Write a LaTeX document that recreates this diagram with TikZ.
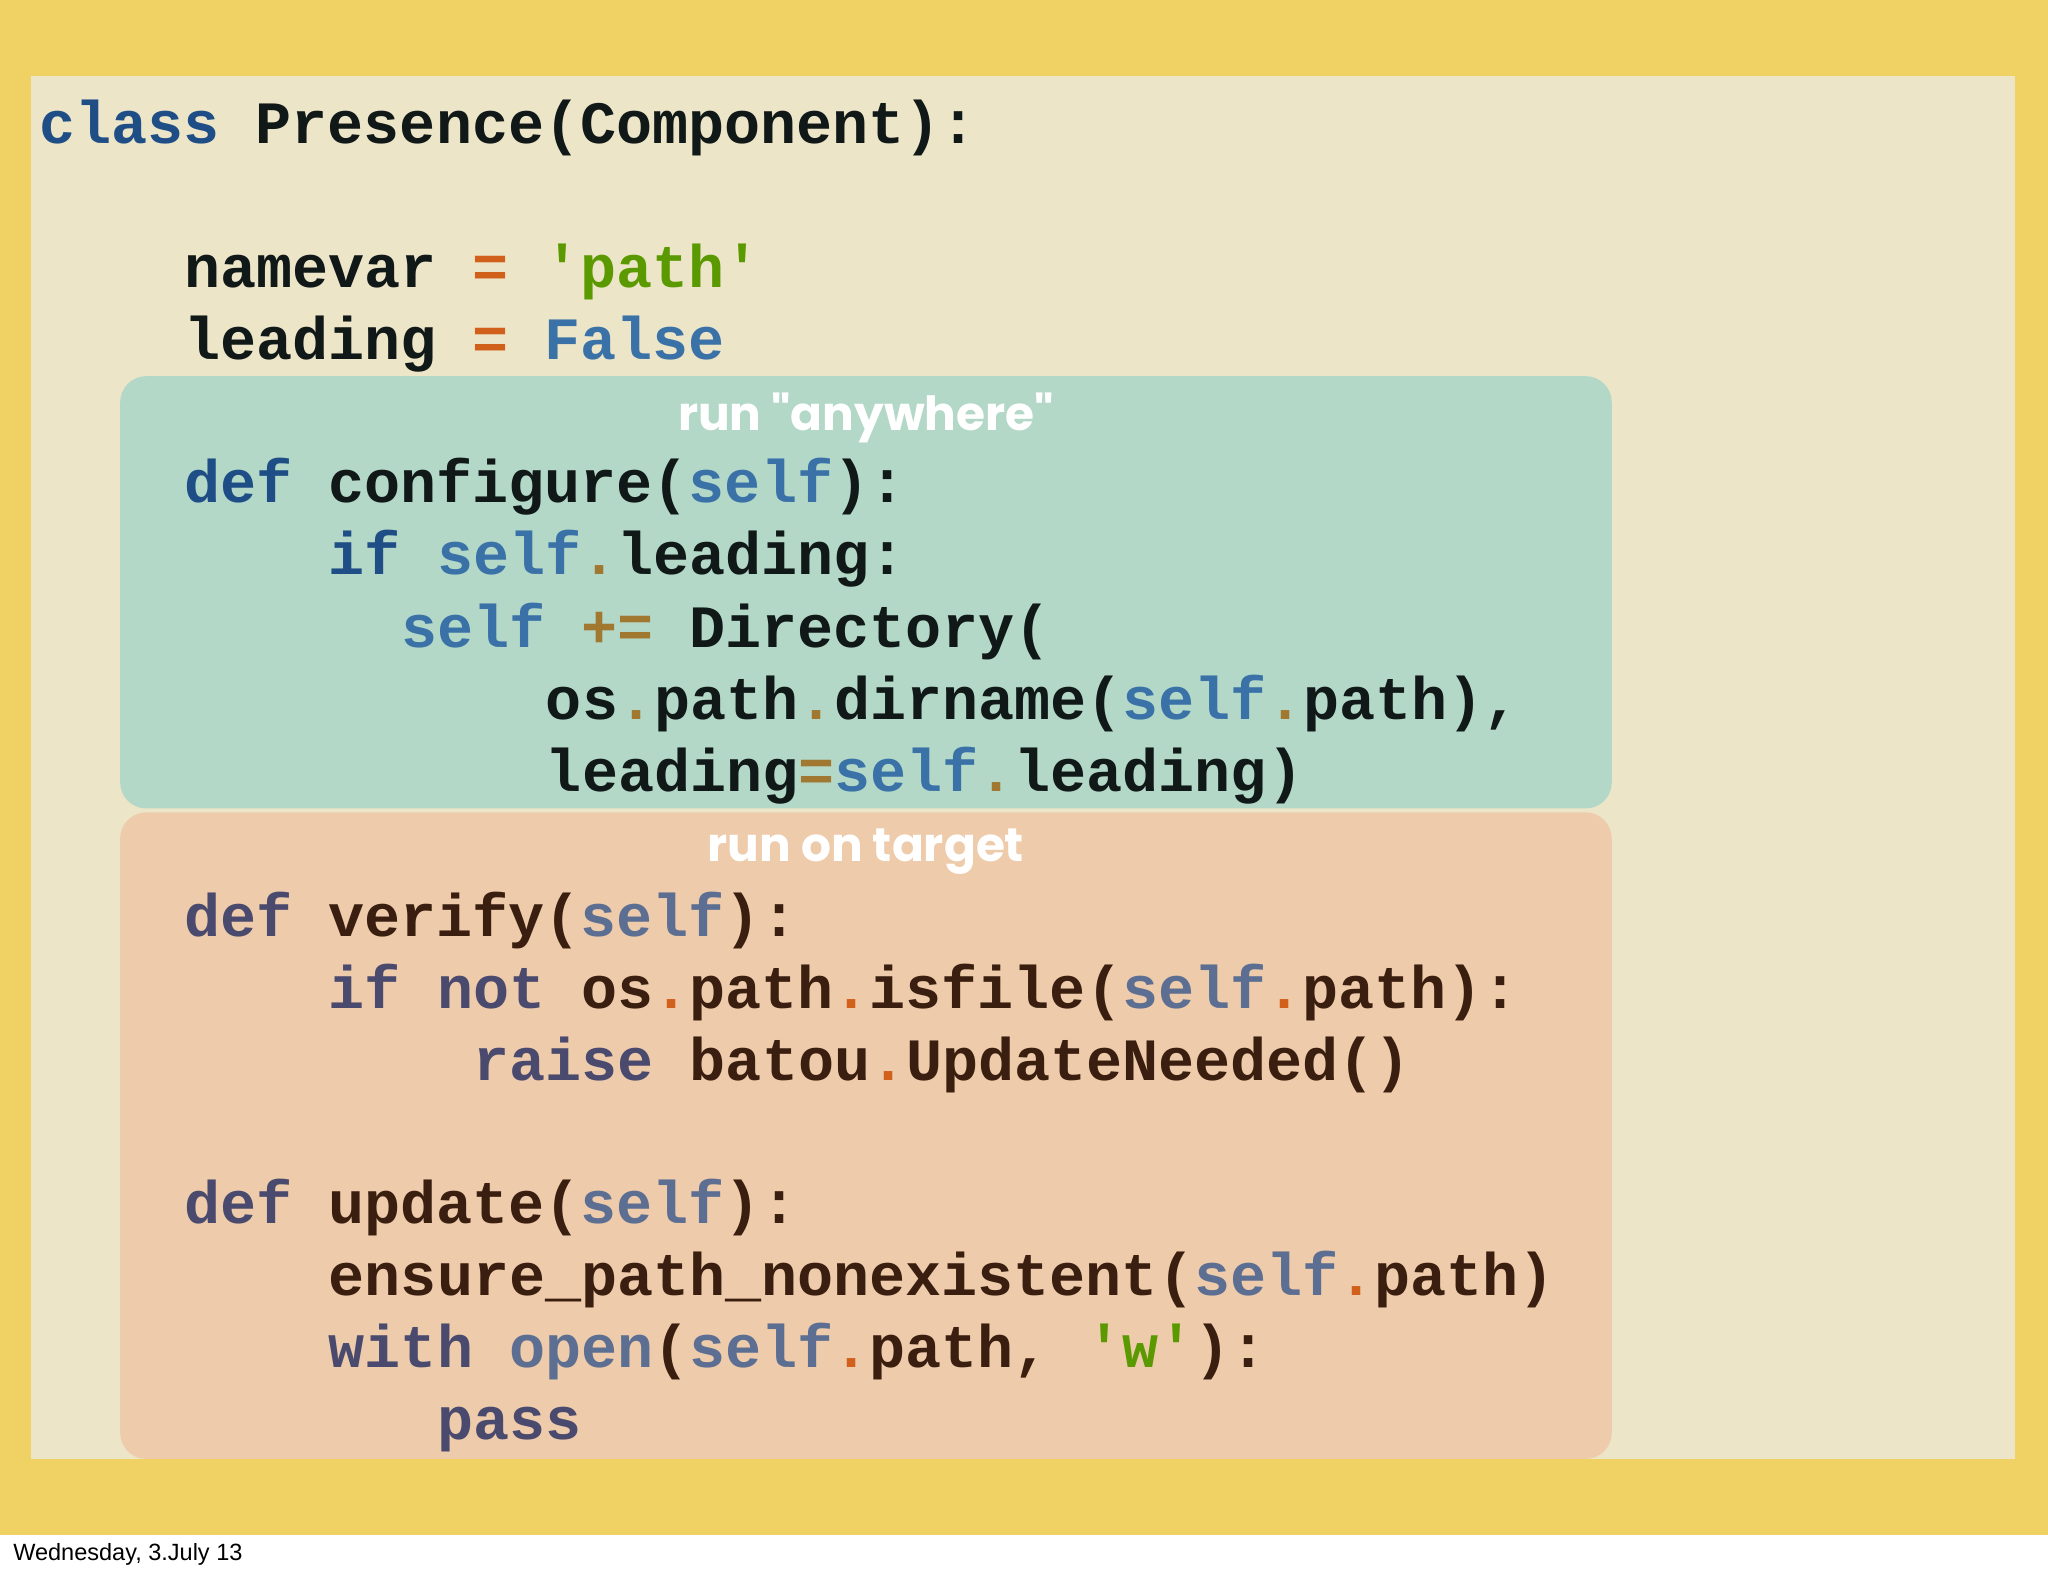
\documentclass[tikz,border=0pt]{standalone}
\usepackage{fontspec}
\setmainfont{Liberation Sans}
\setmonofont{Liberation Mono}
\newfontfamily\hdrfont{Poppins}
\usepackage{xcolor}
\definecolor{bgyel}{HTML}{F0D264}
\definecolor{beige}{HTML}{EDE5C8}
\definecolor{teal}{HTML}{B3D8C8}
\definecolor{peach}{HTML}{EECBAA}
\definecolor{kw}{HTML}{1F4E86}
\definecolor{kwo}{HTML}{4A4A6E}
\definecolor{sf}{HTML}{3A72A8}
\definecolor{sfo}{HTML}{5C6E92}
\definecolor{op}{HTML}{D0601A}
\definecolor{opt}{HTML}{A07830}
\definecolor{str}{HTML}{5A9A00}
\definecolor{idt}{HTML}{101818}
\definecolor{ido}{HTML}{3A1F10}
\newcommand{\K}[1]{\textcolor{kw}{#1}}
\newcommand{\Ko}[1]{\textcolor{kwo}{#1}}
\newcommand{\Sf}[1]{\textcolor{sf}{#1}}
\newcommand{\Sfo}[1]{\textcolor{sfo}{#1}}
\newcommand{\Op}[1]{\textcolor{op}{#1}}
\newcommand{\Ot}[1]{\textcolor{opt}{#1}}
\newcommand{\St}[1]{\textcolor{str}{#1}}
\begin{document}
\begin{tikzpicture}[x=1pt,y=-1pt,
  code/.style={anchor=base west,inner sep=0pt,font=\fontsize{46}{55}\selectfont\ttfamily\bfseries},
  hdr/.style={anchor=center,inner sep=0pt,text=white,font=\fontsize{36}{42}\selectfont\hdrfont\bfseries}]
\useasboundingbox (0,0) rectangle (1568,1207);
\fill[white] (0,0) rectangle (1568,1207);
\fill[bgyel] (0,0) rectangle (1568,1175);
\fill[beige] (24,58) rectangle (1543,1117);
\fill[teal,rounded corners=20pt] (92,288) rectangle (1234,619);
\fill[peach,rounded corners=20pt] (92,622) rectangle (1234,1117);
\def\cx#1{30+#1*27.7}
\node[code,text=idt] (l1) at ({\cx{0}},110) {\K{class} Presence(Component):};
\node[code,text=idt] (l2) at ({\cx{4}},220) {namevar \Op{=} \St{'path'}};
\node[code,text=idt] (l3) at ({\cx{4}},275) {leading \Op{=} \Sf{False}};
\node[hdr] (h1) at (663,320) {run \textquotedbl anywhere\textquotedbl};
\node[code,text=idt] (l4) at ({\cx{4}},385) {\K{def} configure(\Sf{self}):};
\node[code,text=idt] (l5) at ({\cx{8}},440) {\K{if} \Sf{self}\Ot{.}leading:};
\node[code,text=idt] (l6) at ({\cx{10}},496) {\Sf{self} \Ot{+=} Directory(};
\node[code,text=idt] (l7) at ({\cx{14}},551) {os\Ot{.}path\Ot{.}dirname(\Sf{self}\Ot{.}path),};
\node[code,text=idt] (l8) at ({\cx{14}},606) {leading\Ot{=}\Sf{self}\Ot{.}leading)};
\node[hdr] (h2) at (663,652) {run on target};
\node[code,text=ido] (l9) at ({\cx{4}},717) {\Ko{def} verify(\Sfo{self}):};
\node[code,text=ido] (l10) at ({\cx{8}},772) {\Ko{if not} os\Op{.}path\Op{.}isfile(\Sfo{self}\Op{.}path):};
\node[code,text=ido] (l11) at ({\cx{12}},827) {\Ko{raise} batou\Op{.}UpdateNeeded()};
\node[code,text=ido] (l12) at ({\cx{4}},937) {\Ko{def} update(\Sfo{self}):};
\node[code,text=ido] (l13) at ({\cx{8}},992) {ensure\_path\_nonexistent(\Sfo{self}\Op{.}path)};
\node[code,text=ido] (l14) at ({\cx{8}},1047) {\Ko{with} \Sfo{open}(\Sfo{self}\Op{.}path, \St{'w'}):};
\node[code,text=ido] (l15) at ({\cx{11}},1102) {\Ko{pass}};
\node[anchor=west,inner sep=0pt,font=\fontsize{18}{21}\selectfont] (ft) at (10,1190) {Wednesday, 3.July 13};
\end{tikzpicture}
\end{document}
